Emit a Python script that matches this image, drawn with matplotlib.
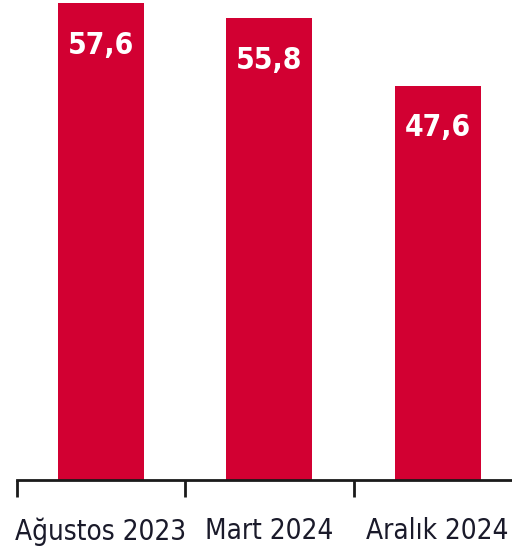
import numpy as np
import matplotlib
matplotlib.use("Agg")
from matplotlib import pyplot as plt

# data
categories = ["Ağustos 2023", "Mart 2024", "Aralık 2024"]
values = [57.6, 55.8, 47.6]
value_labels = ["57,6", "55,8", "47,6"]

BAR_COLOR = "#d20032"

plt.rcParams['font.family'] = ["DejaVu Sans"]
plt.rcParams['font.stretch'] = "condensed"

fig = plt.figure(figsize=(5.12, 5.52), dpi=100)
ax = fig.add_axes([16.5 / 512, 72.5 / 552, 1 - 16.5 / 512, 479.5 / 552])

x = np.arange(len(categories))
ax.bar(x, values, width=0.51, color=BAR_COLOR, zorder=2)

for xi, v, lab in zip(x, values, value_labels):
    ax.annotate(lab, (xi, v), xytext=(0, -42), textcoords="offset pixels",
                ha="center", va="center", color="white",
                fontsize=21.5, fontweight="bold", fontstretch="condensed")

ax.set_xlim(-0.5, -0.5 + (512 - 16.5) / 168.5)
ax.set_ylim(0, 58.0)

for s in ["top", "right", "left"]:
    ax.spines[s].set_visible(False)
ax.spines["bottom"].set_linewidth(2)
ax.spines["bottom"].set_color("#1a1a1a")

ax.set_yticks([])
ax.set_xticks([-0.5, 0.5, 1.5])
ax.set_xticklabels([])
ax.tick_params(axis="x", length=12, width=2, color="#1a1a1a")
ax.set_xticks(x, minor=True)
ax.set_xticklabels(categories, minor=True, fontsize=20, color="#1a1a2a",
                   fontstretch="condensed")
ax.tick_params(axis="x", which="minor", length=0, pad=27)

fig.savefig("out.png", dpi=100)
